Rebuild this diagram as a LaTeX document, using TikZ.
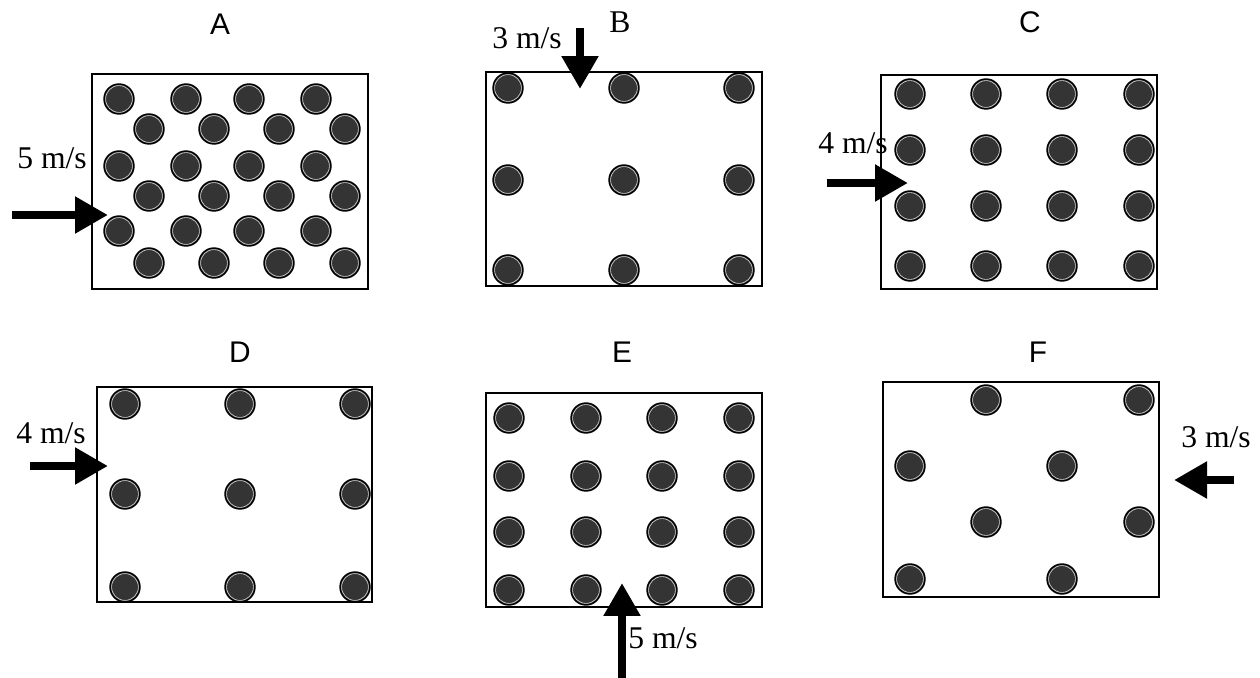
\documentclass[tikz,border=0pt]{standalone}
\usepackage{fontspec}
\setmainfont{Liberation Serif}
\newfontfamily\headfont{Liberation Sans}
\usetikzlibrary{arrows.meta}
\definecolor{ballfill}{RGB}{52,52,52}
\definecolor{ringline}{RGB}{215,215,215}
\newcommand{\ball}[2]{\fill[ball] (#1,#2) circle[radius=15]; \draw[ring] (#1,#2) circle[radius=13.4];}

\begin{document}
\begin{tikzpicture}[x=.02cm,y=-.02cm,font=\fontsize{18}{21}\selectfont,
  box/.style={draw=black,line width=1.1pt},
  ball/.style={fill=ballfill,draw=black,line width=.8pt},
  ring/.style={draw=ringline,line width=.35pt},
  push/.style={line width=.17cm,-{Triangle[length=.66cm,width=.7cm]}},
  tag/.style={font=\headfont\fontsize{17}{20}\selectfont}]
\useasboundingbox (0,0) rectangle (1260,678);
% top row
\node[tag] (tA) at (220,24) {A}; \node (tB) at (620,22) {B}; \node[tag] (tC) at (1030,22) {C};
\draw[box] (92,74) rectangle (368,289); \draw[box] (486,72) rectangle (762,286); \draw[box] (881,75) rectangle (1157,289);
\foreach \y in {99,166,231} \foreach \x in {119,186,249,316} \ball{\x}{\y};
\foreach \y in {129,196,263} \foreach \x in {149,214,279,345} \ball{\x}{\y};
\foreach \y in {88,180,270} \foreach \x in {508,624,739} \ball{\x}{\y};
\foreach \y in {94,150,206,266} \foreach \x in {910,986,1062,1139} \ball{\x}{\y};
\coordinate (a0) at (12,215); \coordinate (a1) at (108,215);
\coordinate (b0) at (580,28); \coordinate (b1) at (580,89);
\coordinate (c0) at (827,183); \coordinate (c1) at (908,183);
\draw[push] (a0) -- (a1); \draw[push] (b0) -- (b1); \draw[push] (c0) -- (c1);
\node (vA) at (52,158) {5 m/s}; \node (vB) at (527,38) {3 m/s}; \node (vC) at (853,143) {4 m/s};
% bottom row
\node[tag] (tD) at (240,352) {D}; \node[tag] (tE) at (622,352) {E}; \node[tag] (tF) at (1038,352) {F};
\draw[box] (97,387) rectangle (372,602); \draw[box] (486,393) rectangle (762,607); \draw[box] (883,382) rectangle (1159,597);
\foreach \y in {404,494,587} \foreach \x in {125,240,355} \ball{\x}{\y};
\foreach \y in {418,476,532,590} \foreach \x in {509,586,662,739} \ball{\x}{\y};
\foreach \x/\y in {986/400,1139/400,910/466,1062/466,986/522,1139/522,910/579,1062/579} \ball{\x}{\y};
\coordinate (d0) at (30,466); \coordinate (d1) at (108,466);
\coordinate (e0) at (622,678); \coordinate (e1) at (622,583);
\coordinate (f0) at (1234,480); \coordinate (f1) at (1174,480);
\draw[push] (d0) -- (d1); \draw[push] (e0) -- (e1); \draw[push] (f0) -- (f1);
\node (vD) at (51,433) {4 m/s}; \node (vE) at (663,638) {5 m/s}; \node (vF) at (1216,437) {3 m/s};
\end{tikzpicture}
\end{document}
